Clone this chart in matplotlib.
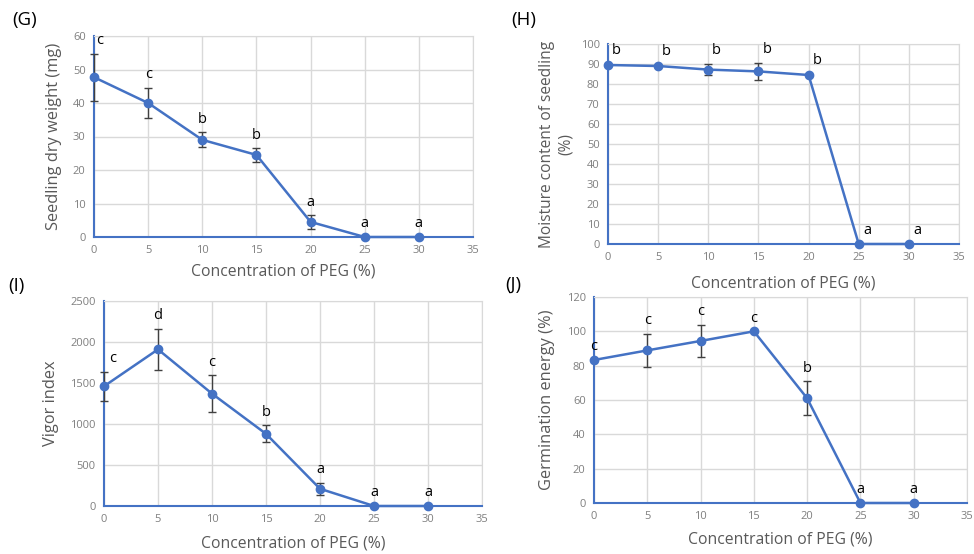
import matplotlib.pyplot as plt

plt.rcParams['font.family'] = ['Open Sans', 'DejaVu Sans']

# PEG concentration (%)
peg = [0, 5, 10, 15, 20, 25, 30]

# (G) seedling dry weight (mg)
dry_weight = [47.7, 40.0, 29.0, 24.5, 4.5, 0, 0]
dry_weight_err = [7.0, 4.6, 2.2, 2.0, 2.0, 0, 0]
dry_weight_sig = ['c', 'c', 'b', 'b', 'a', 'a', 'a']

# (H) moisture content of seedling (%)
moisture = [89.5, 89.0, 87.2, 86.3, 84.5, 0, 0]
moisture_err = [0.5, 0.5, 2.9, 4.3, 0.5, 0, 0]
moisture_sig = ['b', 'b', 'b', 'b', 'b', 'a', 'a']

# (I) vigor index
vigor = [1460, 1910, 1370, 880, 210, 0, 0]
vigor_err = [180, 250, 225, 105, 70, 0, 0]
vigor_sig = ['c', 'd', 'c', 'b', 'a', 'a', 'a']

# (J) germination energy (%)
germ_energy = [83.3, 88.9, 94.4, 100.0, 61.0, 0, 0]
germ_energy_err = [0, 9.7, 9.5, 0, 9.8, 0, 0]
germ_energy_sig = ['c', 'c', 'c', 'c', 'b', 'a', 'a']

BLUE = '#4472C4'
GRID = '#D9D9D9'
TICK = '#7F7F7F'
LABEL = '#595959'

W, H = 974, 554
fig = plt.figure(figsize=(W / 100, H / 100), dpi=100)


def px_axes(x0, y0, x1, y1):
    # pixel box (top-left origin) -> figure fraction
    return fig.add_axes([x0 / W, 1 - y1 / H, (x1 - x0) / W, (y1 - y0) / H])


def panel(box, y, err, sig, ymax, ystep, ylabel, ylab_size, tag, tag_xy, xlab_y, dx, first_dx, pad):
    ax = px_axes(*box)
    ax.errorbar(peg, y, yerr=err, color=BLUE, lw=1.8, marker='o', ms=6,
                ecolor='#404040', elinewidth=1, capsize=3, capthick=1, zorder=3,
                clip_on=False)
    ax.set_xlim(0, 35)
    ax.set_ylim(0, ymax)
    ax.set_xticks(range(0, 36, 5))
    ax.set_yticks(range(0, ymax + 1, ystep))
    ax.grid(True, color=GRID, lw=1)
    ax.set_axisbelow(True)
    ax.tick_params(length=0, labelsize=8, labelcolor=TICK, pad=6)
    for s in ['top', 'right']:
        ax.spines[s].set_color(GRID)
    for s in ['left', 'bottom']:
        ax.spines[s].set_color(BLUE)
        ax.spines[s].set_linewidth(1.5)
    ax.set_ylabel(ylabel, fontsize=ylab_size, color=LABEL, labelpad=pad, linespacing=1.2)
    for i, (xv, yv, ev, s) in enumerate(zip(peg, y, err, sig)):
        off = first_dx if i == 0 else dx
        ax.annotate(s, (xv, yv + ev), xytext=(off, 4), textcoords='offset points',
                    ha='center', va='bottom', fontsize=10.5, color='black',
                    annotation_clip=False)
    fig.text(tag_xy[0] / W, 1 - tag_xy[1] / H, tag, fontsize=13.5, ha='left', va='center')
    cx = (box[0] + box[2]) / 2
    fig.text(cx / W, 1 - xlab_y / H, 'Concentration of PEG (%)', fontsize=11.3,
             color=LABEL, ha='center', va='center')
    return ax


panel((94, 36, 473, 237), dry_weight, dry_weight_err, dry_weight_sig, 60, 10,
      'Seedling dry weight (mg)', 11.8, '(G)', (12, 20), 271, 0, 4, 8)
panel((608, 44, 959, 244), moisture, moisture_err, moisture_sig, 100, 10,
      'Moisture content of seedling\n(%)', 11.2, '(H)', (511, 20), 283, 6, 6, 5)
panel((104, 301, 482, 506), vigor, vigor_err, vigor_sig, 2500, 500,
      'Vigor index', 11.8, '(I)', (8, 286), 543, 0, 6, 8)
panel((594, 297, 967, 503), germ_energy, germ_energy_err, germ_energy_sig, 120, 20,
      'Germination energy (%)', 11.8, '(J)', (505, 285), 540, 0, 0, 8)

fig.savefig('out.png', dpi=100)
